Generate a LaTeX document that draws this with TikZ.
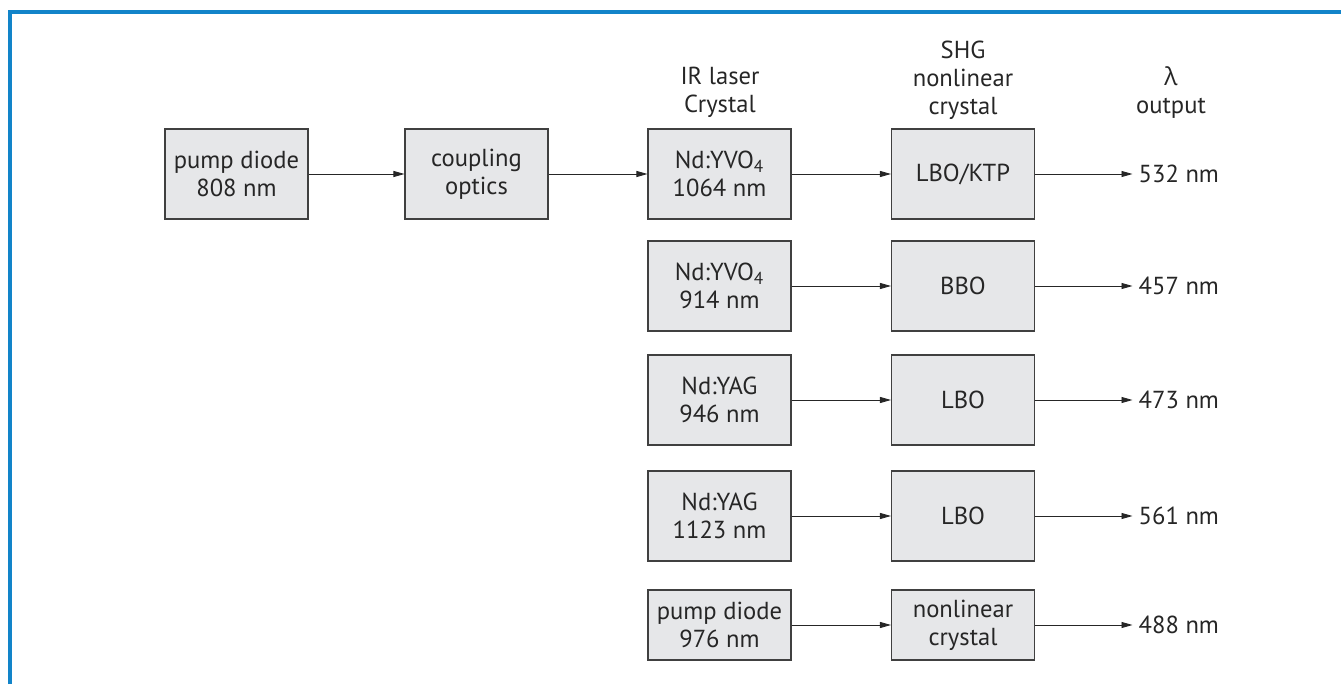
\documentclass[tikz,border=0pt]{standalone}
\usepackage{fontspec}
\setmainfont{PT Sans}
\newfontfamily\greekfont{Open Sans}
\usepackage{tikz}
\usetikzlibrary{arrows.meta}

\definecolor{frameblue}{RGB}{18,132,201}
\definecolor{boxgray}{RGB}{230,231,233}

\tikzset{
    block/.style={draw=black!75, fill=boxgray, line width=0.6pt, minimum width=2.86cm,
        minimum height=1.8cm, align=center, inner sep=2pt},
    flat/.style={block, minimum height=1.4cm},
    head/.style={align=center},
    beam/.style={-{Triangle[length=2.2mm,width=1.2mm]}, line width=0.5pt, black!85}
}

\begin{document}
\begin{tikzpicture}[font=\fontsize{14}{16}\selectfont, text=black!85]
    \useasboundingbox (0,0) rectangle (26.82,13.68);

    % Blue frame
    \draw[frameblue, line width=2.2pt] (0.2,0) -- (0.2,13.44) -- (26.82,13.44);

    % Column headings
    \node[head] (hir) at (14.4,11.83) {IR laser\\Crystal};
    \node[head] (hshg) at (19.26,12.08) {SHG\\nonlinear\\crystal};
    \node[head] (hout) at (23.42,11.83) {{\greekfont λ}\\output};

    % Pump and coupling
    \node[block] (pump) at (4.73,10.2) {pump diode\\808 nm};
    \node[block] (optics) at (9.53,10.2) {coupling\\optics};

    % IR laser crystals
    \node[block] (ir1) at (14.39,10.2) {Nd:YVO\textsubscript{4}\\1064 nm};
    \node[block] (ir2) at (14.39,7.96) {Nd:YVO\textsubscript{4}\\914 nm};
    \node[block] (ir3) at (14.39,5.68) {Nd:YAG\\946 nm};
    \node[block] (ir4) at (14.39,3.36) {Nd:YAG\\1123 nm};
    \node[flat] (ir5) at (14.39,1.18) {pump diode\\976 nm};

    % SHG crystals
    \node[block] (shg1) at (19.26,10.2) {LBO/KTP};
    \node[block] (shg2) at (19.26,7.96) {BBO};
    \node[block] (shg3) at (19.26,5.68) {LBO};
    \node[block] (shg4) at (19.26,3.36) {LBO};
    \node[flat] (shg5) at (19.26,1.18) {nonlinear\\crystal};

    % Output wavelengths
    \node[anchor=west] (out1) at (22.65,10.2) {532 nm};
    \node[anchor=west] (out2) at (22.65,7.96) {457 nm};
    \node[anchor=west] (out3) at (22.65,5.68) {473 nm};
    \node[anchor=west] (out4) at (22.65,3.36) {561 nm};
    \node[anchor=west] (out5) at (22.65,1.18) {488 nm};

    % Beams
    \draw[beam] (pump) -- (optics);
    \draw[beam] (optics) -- (ir1);
    \draw[beam] (ir1) -- (shg1);
    \draw[beam] (ir2) -- (shg2);
    \draw[beam] (ir3) -- (shg3);
    \draw[beam] (ir4) -- (shg4);
    \draw[beam] (ir5) -- (shg5);
    \draw[beam] (shg1) -- (out1);
    \draw[beam] (shg2) -- (out2);
    \draw[beam] (shg3) -- (out3);
    \draw[beam] (shg4) -- (out4);
    \draw[beam] (shg5) -- (out5);
\end{tikzpicture}
\end{document}
